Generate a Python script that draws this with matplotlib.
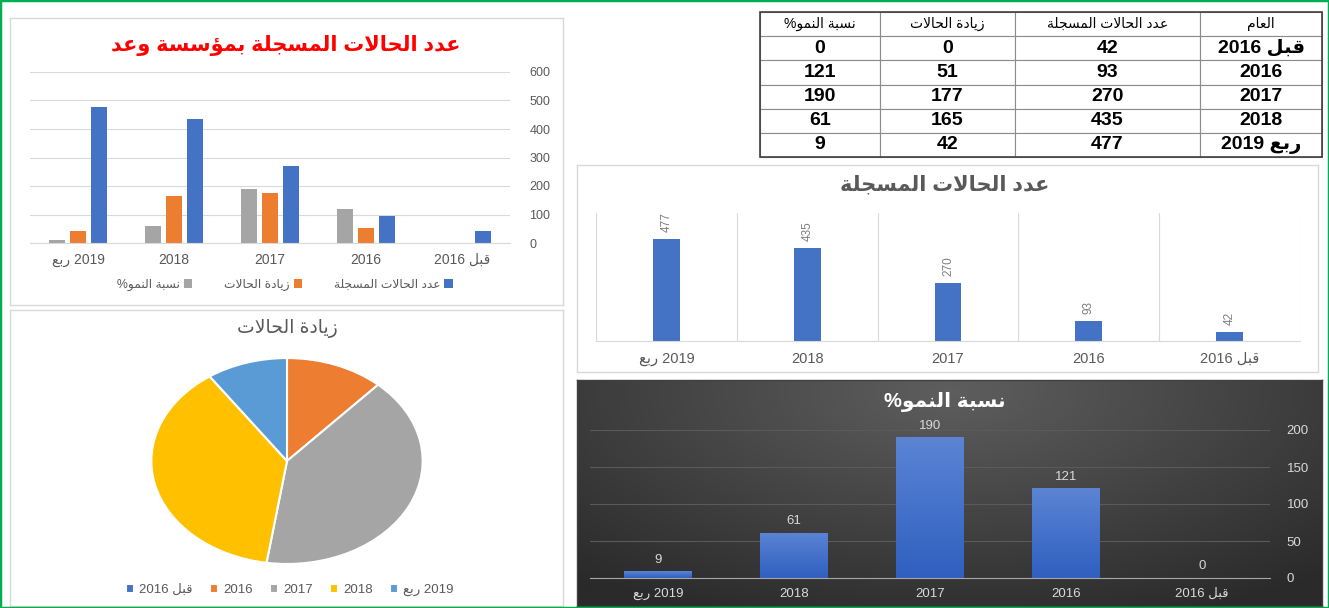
import numpy as np
import matplotlib
matplotlib.use('Agg')
import matplotlib.pyplot as plt
from matplotlib.patches import Rectangle

plt.rcParams['font.family'] = ['Liberation Sans', 'DejaVu Sans']

# data
years = ['قبل 2016', '2016', '2017', '2018', 'ربع 2019']
year_ticks = ['قبل 2016', '2016', '2017', '2018', '2019 ربع']
cases = [42, 93, 270, 435, 477]
increase = [0, 51, 177, 165, 42]
growth = [0, 121, 190, 61, 9]

col_year = 'العام'
col_cases = 'عدد الحالات المسجلة'
col_increase = 'زيادة الحالات'
col_growth = 'نسبة النمو%'
main_title = 'عدد الحالات المسجلة بمؤسسة وعد'

# Arabic shaping (matplotlib has no shaping / bidi)
AR = {
    'ا': (0xFE8D, 0xFE8E), 'ب': (0xFE8F, 0xFE90, 0xFE91, 0xFE92),
    'ة': (0xFE93, 0xFE94), 'ت': (0xFE95, 0xFE96, 0xFE97, 0xFE98),
    'ج': (0xFE9D, 0xFE9E, 0xFE9F, 0xFEA0), 'ح': (0xFEA1, 0xFEA2, 0xFEA3, 0xFEA4),
    'د': (0xFEA9, 0xFEAA), 'ر': (0xFEAD, 0xFEAE), 'ز': (0xFEAF, 0xFEB0),
    'س': (0xFEB1, 0xFEB2, 0xFEB3, 0xFEB4), 'ع': (0xFEC9, 0xFECA, 0xFECB, 0xFECC),
    'ق': (0xFED5, 0xFED6, 0xFED7, 0xFED8), 'ل': (0xFEDD, 0xFEDE, 0xFEDF, 0xFEE0),
    'م': (0xFEE1, 0xFEE2, 0xFEE3, 0xFEE4), 'ن': (0xFEE5, 0xFEE6, 0xFEE7, 0xFEE8),
    'و': (0xFEED, 0xFEEE), 'ي': (0xFEF1, 0xFEF2, 0xFEF3, 0xFEF4),
    'ؤ': (0xFE85, 0xFE86),
}


def shape_word(w):
    out = []
    i = 0
    prev_joins = False
    while i < len(w):
        c = w[i]
        if c == 'ل' and i + 1 < len(w) and w[i + 1] == 'ا':
            out.append(chr(0xFEFC if prev_joins else 0xFEFB))
            prev_joins = False
            i += 2
            continue
        f = AR.get(c)
        if f is None:
            out.append(c)
            prev_joins = False
            i += 1
            continue
        nxt = w[i + 1] if i + 1 < len(w) else ''
        next_joins = len(f) == 4 and nxt in AR
        if prev_joins and next_joins:
            g = f[3]
        elif prev_joins:
            g = f[1]
        elif next_joins:
            g = f[2]
        else:
            g = f[0]
        out.append(chr(g))
        prev_joins = next_joins
        i += 1
    return ''.join(out)


def ar(text, rtl=True):
    toks = [shape_word(t)[::-1] if any(ch in AR for ch in t) else t for t in text.split(' ')]
    if rtl:
        toks = toks[::-1]
    return ' '.join(toks)


W, H = 1329, 608
fig = plt.figure(figsize=(W / 100, H / 100), dpi=100)
fig.patch.set_facecolor('white')


def box(x0, y0, x1, y1):
    return fig.add_axes([x0 / W, 1 - y1 / H, (x1 - x0) / W, (y1 - y0) / H])


def panel(x0, y0, x1, y1, ec='#d9d9d9'):
    ax = box(x0, y0, x1, y1)
    ax.set_xticks([])
    ax.set_yticks([])
    for s in ax.spines.values():
        s.set_color(ec)
        s.set_linewidth(1)
    return ax


BLUE, ORANGE, GRAY, YELLOW, LBLUE = '#4472C4', '#ED7D31', '#A5A5A5', '#FFC000', '#5B9BD5'
TXT = '#595959'
x = np.arange(len(years))
tick_labels = [ar(t) for t in year_ticks]

# ---- panel 1: grouped bars
panel(10, 18, 563, 305)
ax1 = box(30, 72, 510, 243)
ax1.patch.set_alpha(0)
w = 0.17
b_g = ax1.bar(x + 0.22, growth, w, color=GRAY)
b_i = ax1.bar(x, increase, w, color=ORANGE)
b_c = ax1.bar(x - 0.22, cases, w, color=BLUE)
ax1.set_xlim(4.5, -0.5)
ax1.set_ylim(0, 600)
ax1.yaxis.tick_right()
ax1.set_yticks(range(0, 601, 100))
ax1.set_xticks(x)
ax1.set_xticklabels(tick_labels)
ax1.grid(axis='y', color='#d9d9d9', lw=0.8)
ax1.set_axisbelow(True)
for s in ['top', 'left', 'right']:
    ax1.spines[s].set_visible(False)
ax1.spines['bottom'].set_color('#d9d9d9')
ax1.tick_params(axis='y', length=0, colors=TXT, labelsize=9, pad=14)
ax1.tick_params(axis='x', length=0, colors=TXT, labelsize=10, pad=7)
fig.text(286 / W, 1 - 45 / H, ar(main_title), ha='center', va='center',
         color='red', fontsize=15, fontweight='bold')
fig.legend([b_g, b_i, b_c], [ar(col_growth), ar(col_increase), ar(col_cases)],
           loc='center', bbox_to_anchor=(285 / W, 1 - 285 / H), ncol=3, frameon=False,
           markerfirst=False, fontsize=8.8, labelcolor=TXT, handlelength=0.7,
           handleheight=0.7, columnspacing=2.6, handletextpad=0.3)

# ---- table
tax = box(760, 12, 1322, 157)
tax.axis('off')
cell_text = [[str(g), str(i), str(c), ar(y)]
             for y, c, i, g in zip(years, cases, increase, growth)]
widths = np.array([120, 135, 185, 122]) / 562
tbl = tax.table(cellText=cell_text,
                colLabels=[ar(col_growth), ar(col_increase), ar(col_cases), ar(col_year)],
                colWidths=list(widths), bbox=[0, 0, 1, 1], cellLoc='center')
tbl.auto_set_font_size(False)
for (r, c), cell in tbl.get_celld().items():
    cell.set_edgecolor('#8c8c8c')
    cell.set_linewidth(0.8)
    if r == 0:
        cell.get_text().set_fontsize(10)
    else:
        cell.get_text().set_fontsize(14)
        cell.get_text().set_fontweight('bold')
tax.add_patch(Rectangle((0, 0), 1, 1, transform=tax.transAxes, fill=False,
                        edgecolor='#404040', lw=1.2, clip_on=False))

# ---- panel 3: registered cases
panel(577, 165, 1318, 372)
ax3 = box(596, 213, 1300, 341)
ax3.patch.set_alpha(0)
bars3 = ax3.bar(x, cases, 0.19, color=BLUE)
ax3.bar_label(bars3, rotation=90, padding=5, color='#7f7f7f', fontsize=8.5)
ax3.set_xlim(4.5, -0.5)
ax3.set_ylim(0, 600)
ax3.set_yticks([])
ax3.set_xticks(x)
ax3.set_xticklabels(tick_labels)
ax3.set_xticks(np.arange(-0.5, 5, 1), minor=True)
ax3.grid(which='minor', axis='x', color='#d9d9d9', lw=0.8)
ax3.set_axisbelow(True)
for s in ['top', 'left', 'right']:
    ax3.spines[s].set_visible(False)
ax3.spines['bottom'].set_color('#d9d9d9')
ax3.tick_params(which='both', length=0, colors=TXT, labelsize=10.5, pad=8)
fig.text(945 / W, 1 - 185 / H, ar(col_cases), ha='center', va='center',
         color=TXT, fontsize=15, fontweight='bold')

# ---- panel 4: growth (dark)
bg = panel(577, 380, 1322, 606, ec='#404040')
gy, gx = np.mgrid[0:1:200j, 0:1:400j]
r = np.clip(np.sqrt(((gx - 0.5) / 0.75) ** 2 + ((gy - 0.05) / 1.1) ** 2), 0, 1)
c0, c1 = np.array([0x5e, 0x5e, 0x5e]) / 255, np.array([0x2a, 0x2a, 0x2a]) / 255
img = c0 + (c1 - c0) * r[..., None]
bg.imshow(img, extent=[0, 1, 0, 1], aspect='auto', origin='upper')
ax4 = box(590, 430, 1270, 578)
ax4.patch.set_alpha(0)
bars4 = ax4.bar(x, growth, 0.5, color=BLUE)
grad = np.linspace(0, 1, 100)[:, None]
top_c, bot_c = np.array([0x5b, 0x84, 0xd4]) / 255, np.array([0x2f, 0x5f, 0xc0]) / 255
grad_img = bot_c + (top_c - bot_c) * grad[..., None]
for b in bars4:
    if b.get_height() > 0:
        im = ax4.imshow(grad_img, extent=[b.get_x(), b.get_x() + b.get_width(), 0, b.get_height()],
                        aspect='auto', origin='lower', zorder=2)
        im.set_clip_path(b)
ax4.bar_label(bars4, padding=4, color='#d9d9d9', fontsize=9.5)
ax4.set_xlim(4.5, -0.5)
ax4.set_ylim(0, 200)
ax4.yaxis.tick_right()
ax4.set_yticks(range(0, 201, 50))
ax4.set_xticks(x)
ax4.set_xticklabels(tick_labels)
ax4.grid(axis='y', color='#5a5a5a', lw=0.8)
ax4.set_axisbelow(True)
for s in ['top', 'left', 'right']:
    ax4.spines[s].set_visible(False)
ax4.spines['bottom'].set_color('#a6a6a6')
ax4.tick_params(axis='y', length=0, colors='#d9d9d9', labelsize=9.5, pad=12)
ax4.tick_params(axis='x', length=0, colors='#d9d9d9', labelsize=9.5, pad=7)
fig.text(945 / W, 1 - 402 / H, ar(col_growth), ha='center', va='center',
         color='white', fontsize=14.5, fontweight='bold')

# ---- panel 5: pie
panel(10, 310, 563, 606)
pax = box(150, 357, 424, 565)
wedges, _ = pax.pie(increase, colors=[BLUE, ORANGE, GRAY, YELLOW, LBLUE], startangle=90,
                    counterclock=False, wedgeprops=dict(edgecolor='white', linewidth=1.5))
pax.set_aspect('auto')
pax.set_xlim(-1.01, 1.01)
pax.set_ylim(-1.01, 1.01)
fig.text(287 / W, 1 - 328 / H, ar(col_increase), ha='center', va='center',
         color=TXT, fontsize=13.5)
fig.legend(wedges, tick_labels, loc='center',
           bbox_to_anchor=(290 / W, 1 - 590 / H), ncol=5, frameon=False, fontsize=9.5,
           labelcolor=TXT, handlelength=0.6, handleheight=0.6, columnspacing=1.3,
           handletextpad=0.4)

# green frame
fig.add_artist(Rectangle((0, 0), 1, 1, transform=fig.transFigure, fill=False,
                         edgecolor='#00B050', lw=2.5))

fig.savefig('out.png', dpi=100)
